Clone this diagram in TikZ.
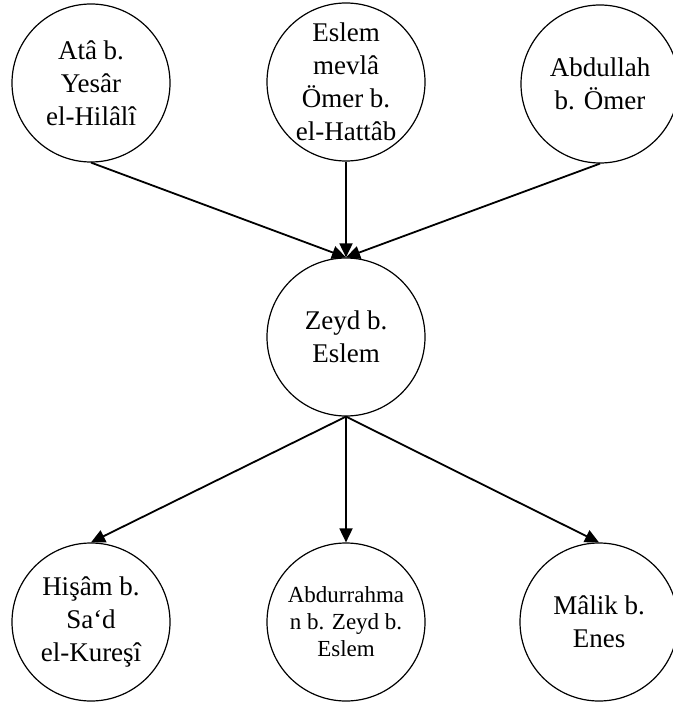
\documentclass[tikz,border=0pt]{standalone}
\usepackage{fontspec}
\setmainfont{Liberation Serif}
\usetikzlibrary{arrows.meta}
\begin{document}
\begin{tikzpicture}[x=1pt,y=-1pt,
  person/.style={circle,draw,line width=1.2pt,minimum size=158pt,inner sep=0pt,
    align=center,font=\fontsize{27}{33}\selectfont},
  smallperson/.style={person,font=\fontsize{23}{27}\selectfont},
  link/.style={line width=1.8pt,-{Triangle[length=14pt,width=13pt]}}]
\useasboundingbox (0,0) rectangle (672,708);
\node[person] (ata) at (91,83) {Atâ b.\\Yesâr\\el-Hilâlî};
\node[person] (eslem) at (346,82) {Eslem\\mevlâ\\Ömer b.\\el-Hattâb};
\node[person] (abd) at (600,84) {Abdullah\\b. Ömer};
\node[person] (zeyd) at (346,337) {Zeyd b.\\Eslem};
\node[person] (hisam) at (91,622) {Hişâm b.\\Sa‘d\\el-Kureşî};
\node[smallperson] (abdr) at (346,622) {Abdurrahma\\n b. Zeyd b.\\Eslem};
\node[person] (malik) at (599,622) {Mâlik b.\\Enes};
\draw[link] (ata.south) -- (zeyd.north);
\draw[link] (eslem.south) -- (zeyd.north);
\draw[link] (abd.south) -- (zeyd.north);
\draw[link] (zeyd.south) -- (hisam.north);
\draw[link] (zeyd.south) -- (abdr.north);
\draw[link] (zeyd.south) -- (malik.north);
\end{tikzpicture}
\end{document}
